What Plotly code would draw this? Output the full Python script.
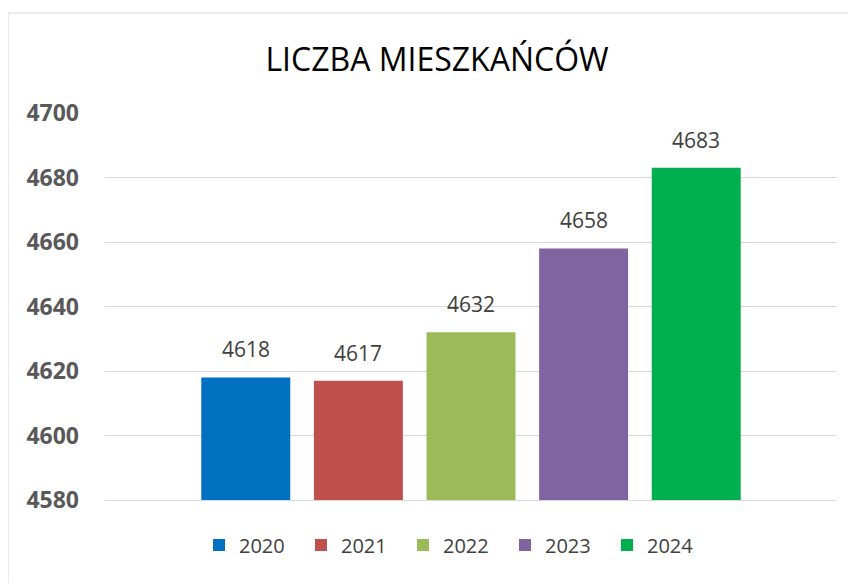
import plotly.graph_objects as go

years = ["2020", "2021", "2022", "2023", "2024"]
values = [4618, 4617, 4632, 4658, 4683]
colors = ["#0070C0", "#C0504D", "#9BBB59", "#8064A2", "#00B050"]
title_text = "LICZBA MIESZKAŃCÓW"
y_ticks = [4580, 4600, 4620, 4640, 4660, 4680, 4700]

FONT = "Open Sans, Liberation Sans, sans-serif"

fig = go.Figure()
for i, (yr, v, c) in enumerate(zip(years, values, colors)):
    fig.add_trace(go.Bar(x=[yr], y=[v], name=yr, marker=dict(color=c, line=dict(width=0)),
                         width=0.79, hoverinfo="y"))
    fig.add_annotation(x=i, y=v, text=str(v), showarrow=False, yanchor="bottom",
                       yshift=12, font=dict(family=FONT, size=21, color="#404040"))

fig.update_layout(
    width=856, height=583,
    margin=dict(l=97, r=27, t=105, b=91),
    paper_bgcolor="white", plot_bgcolor="white",
    barmode="overlay",
    title=dict(text=title_text, x=429 / 856, xanchor="center", xref="container",
               y=1 - 52 / 583, yanchor="middle", yref="container",
               font=dict(family=FONT, size=32, color="#000000")),
    xaxis=dict(type="category", range=[-1.25, 5.25], showticklabels=False, showgrid=False,
               showline=True, linecolor="#d9d9d9", linewidth=1, ticks="", zeroline=False,
               fixedrange=True),
    yaxis=dict(range=[4580, 4700], tickvals=y_ticks, showgrid=True, gridcolor="#d9d9d9",
               gridwidth=1, zeroline=False, showline=False, ticks="",
               ticklabelstandoff=25,
               tickfont=dict(family=FONT, size=23, color="#595959", weight="bold")),
    legend=dict(orientation="h", x=0.5 - 17 / 732, xanchor="center", y=-0.116, yanchor="middle",
                font=dict(family=FONT, size=20, color="#404040"), entrywidth=57,
                traceorder="normal"),
    shapes=[dict(type="rect", xref="paper", yref="paper", x0=-97 / 732, x1=2,
                 y0=-1, y1=(387 + 105 - 5) / 387, line=dict(color="#d9d9d9", width=1),
                 fillcolor="rgba(0,0,0,0)", layer="below")],
)

fig.write_html("out.html")
